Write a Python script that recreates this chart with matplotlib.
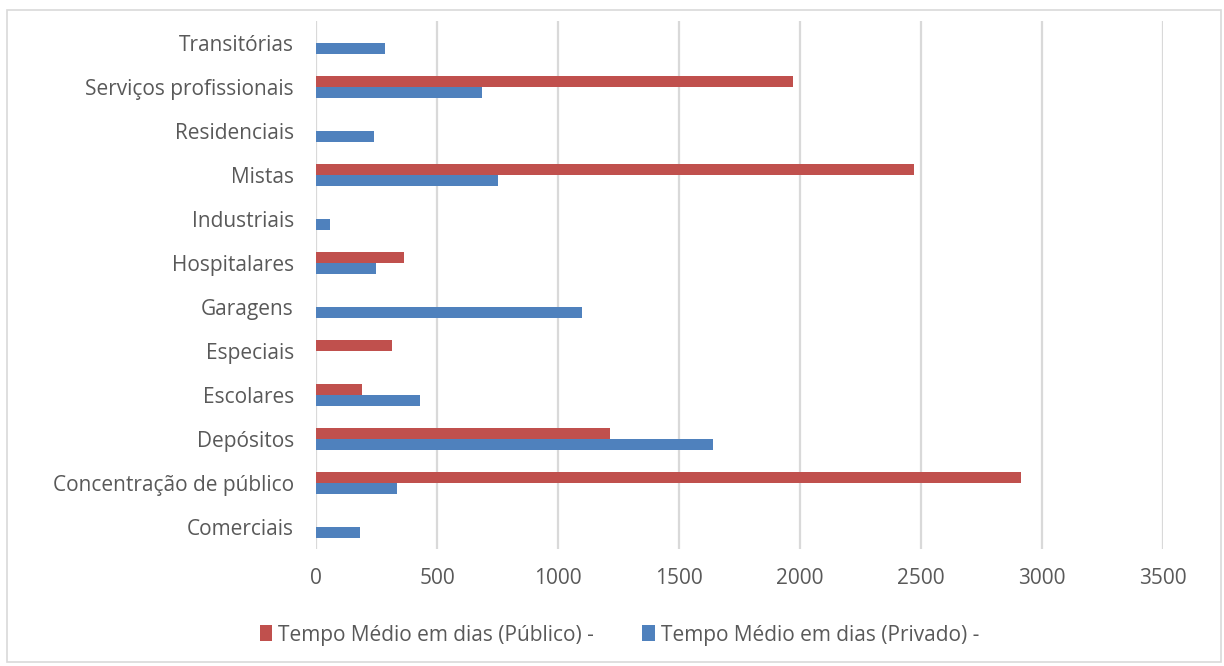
import matplotlib
matplotlib.use("Agg")
import matplotlib.pyplot as plt
import matplotlib.patches as patches
import numpy as np

plt.rcParams["font.family"] = ["Open Sans", "DejaVu Sans"]

# ── Data ───────────────────────────────────
categories = ["Comerciais", "Concentração de público", "Depósitos", "Escolares",
              "Especiais", "Garagens", "Hospitalares", "Industriais", "Mistas",
              "Residenciais", "Serviços profissionais", "Transitórias"]
publico = [0, 2913, 1213, 192, 316, 0, 362, 0, 2473, 0, 1973, 0]
privado = [180, 333, 1639, 428, 0, 1101, 246, 56, 750, 238, 685, 287]
xticks = [0, 500, 1000, 1500, 2000, 2500, 3000, 3500]

# ── Theme ──────────────────────────────────
RED = "#C0504D"
BLUE = "#4F81BD"
TXT = "#595959"
GRID = "#D9D9D9"

fig = plt.figure(figsize=(12.24, 6.66), dpi=100, facecolor="white")
ax = fig.add_axes([316 / 1224, 1 - 549 / 666, 847 / 1224, 528 / 666])

y = np.arange(len(categories))
h = 0.25
ax.barh(y + h / 2, publico, height=h, color=RED, label="Tempo Médio em dias (Público) -", zorder=3)
ax.barh(y - h / 2, privado, height=h, color=BLUE, label="Tempo Médio em dias (Privado) -", zorder=3)

ax.set_xlim(0, 3500)
ax.set_ylim(-0.5, len(categories) - 0.5)
ax.set_xticks(xticks)
ax.set_yticks(y)
ax.set_yticklabels(categories)
ax.tick_params(length=0, labelsize=15, colors=TXT)
ax.tick_params(axis="x", pad=14)
ax.tick_params(axis="y", pad=16)
ax.xaxis.grid(True, color=GRID, linewidth=1.6, zorder=0)
for s in ax.spines.values():
    s.set_visible(False)

leg = fig.legend(loc="center", bbox_to_anchor=(0.506, 1 - 635 / 666), ncol=2,
                 frameon=False, fontsize=15, handlelength=0.6, handleheight=0.8,
                 handletextpad=0.3, columnspacing=2.3)
for t in leg.get_texts():
    t.set_color(TXT)

# outer chart border
fig.patches.append(patches.Rectangle((7 / 1224, 4 / 666), 1214 / 1224, 652 / 666,
                                     transform=fig.transFigure, fill=False,
                                     edgecolor=GRID, linewidth=1.2))

fig.savefig("out.png", dpi=100, facecolor="white")
